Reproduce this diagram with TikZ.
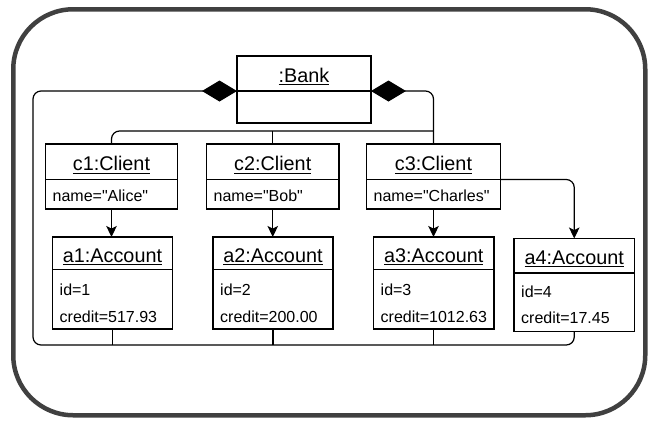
\documentclass[tikz,border=0pt]{standalone}
\usepackage{fontspec}
\setmainfont{Liberation Sans}[Ligatures=TeXOff]
\usetikzlibrary{arrows.meta}

% underlined object name
\newcommand\ulined[1]{\setbox0\hbox{#1}\rlap{\rule[-3.3pt]{\wd0}{1.1pt}}\box0}

% object box: name, left, top, width, height, height of the name compartment
\newcommand\umlobj[6]{%
  \node[objbox, minimum width=#4pt, minimum height=#5pt] (#1) at (#2,#3) {};
  \draw[sepline] ([yshift=-#6pt]#1.north west) -- ([yshift=-#6pt]#1.north east);
}

\begin{document}
\begin{tikzpicture}[x=1pt,y=-1pt,
  objbox/.style={draw=black, line width=1.1pt, anchor=north west, inner sep=0pt, outer sep=0pt},
  sepline/.style={draw=black, line width=1.1pt},
  objname/.style={anchor=base, inner sep=0pt, font=\fontsize{19.8}{22}\selectfont},
  attr/.style={anchor=base west, inner sep=0pt, font=\fontsize{16}{19}\selectfont},
  link/.style={draw=black, line width=1.2pt, rounded corners=8pt},
  nav/.style={link, -{Stealth[length=11pt,width=10.5pt,inset=2.5pt]}},
  comp/.style={link, {Diamond[length=35pt,width=21pt]}-},
  frame/.style={draw=black!75, line width=4.5pt, rounded corners=60pt,
    anchor=north west, inner sep=0pt}]

\useasboundingbox (0,0) rectangle (650,421);
\node[frame, minimum width=632pt, minimum height=406pt] (frame) at (11,7) {};

% objects
\umlobj{bank}{237}{56}{134}{67}{35}
\node[objname] (bankname) at (304,82) {\ulined{:Bank}};

\umlobj{c1}{45.5}{144}{132}{65}{35.5}
\umlobj{c2}{206.5}{144}{132.5}{65}{35.5}
\umlobj{c3}{366.5}{144}{134}{65}{35.5}
\node[objname] (c1name) at (111.5,170.5) {\ulined{c1:Client}};
\node[objname] (c2name) at (272.75,170.5) {\ulined{c2:Client}};
\node[objname] (c3name) at (433.5,170.5) {\ulined{c3:Client}};
\node[attr] (c1a) at (52.5,201.5) {name="Alice"};
\node[attr] (c2a) at (213.5,201.5) {name="Bob"};
\node[attr] (c3a) at (373.5,201.5) {name="Charles"};

\umlobj{a1}{52.5}{237}{120}{92}{32.5}
\umlobj{a2}{213}{237}{120}{92}{32.5}
\umlobj{a3}{373.5}{237}{120.5}{92}{32.5}
\umlobj{a4}{514}{238.5}{120.5}{93}{34.5}
\node[objname] (a1name) at (112.5,262) {\ulined{a1:Account}};
\node[objname] (a2name) at (273,262) {\ulined{a2:Account}};
\node[objname] (a3name) at (433.75,262) {\ulined{a3:Account}};
\node[objname] (a4name) at (574.25,264) {\ulined{a4:Account}};
\node[attr] (a1id) at (59.5,295) {id=1};
\node[attr] (a1cr) at (59.5,322) {credit=517.93};
\node[attr] (a2id) at (220,295) {id=2};
\node[attr] (a2cr) at (220,322) {credit=200.00};
\node[attr] (a3id) at (380.5,295) {id=3};
\node[attr] (a3cr) at (380.5,322) {credit=1012.63};
\node[attr] (a4id) at (521,297.5) {id=4};
\node[attr] (a4cr) at (521,323) {credit=17.45};

% bus levels
\coordinate (bus) at (0,131);
\coordinate (bottom) at (0,345);

% composition: bank to clients
\draw[comp] ([yshift=-35pt]bank.north east) -| (c3.north);
\draw[link] (c1.north) |- (c3.north |- bus);
\draw[link] (c2.north) -- (c2.north |- bus);

% composition: bank to accounts
\draw[comp] ([yshift=-35pt]bank.north west) -- (33,91) -- (33,345) -| (a4.south);
\draw[link] (a1.south) -- (a1.south |- bottom);
\draw[link] (a2.south) -- (a2.south |- bottom);
\draw[link] (a3.south) -- (a3.south |- bottom);

% client to account navigation
\draw[nav] (c1.south) -- (c1.south |- a1.north);
\draw[nav] (c2.south) -- (c2.south |- a2.north);
\draw[nav] (c3.south) -- (c3.south |- a3.north);
\draw[nav] ([yshift=-35.5pt]c3.north east) -| (a4.north);
\end{tikzpicture}
\end{document}
